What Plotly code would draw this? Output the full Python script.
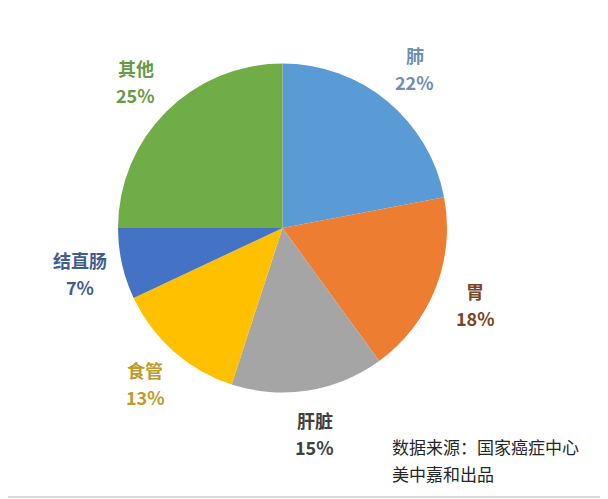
import math
import plotly.graph_objects as go

# cancer types and share (%)
labels = ["肺", "胃", "肝脏", "食管", "结直肠", "其他"]
values = [22, 18, 15, 13, 7, 25]
slice_colors = ["#5B9BD5", "#ED7D31", "#A5A5A5", "#FFC000", "#4472C4", "#70AD47"]
text_colors = ["#6D8FB0", "#7A4526", "#404040", "#BE9A2E", "#3F5E8E", "#679A45"]
source_lines = ["数据来源：国家癌症中心", "美中嘉和出品"]

W, H = 608, 499
off = 8  # page body margin
cx, cy, r = 282.5 - off, 228 - off, 164.5  # pie centre/radius in figure pixels

fig = go.Figure(go.Pie(
    labels=labels, values=values, sort=False, direction="clockwise", rotation=0,
    marker=dict(colors=slice_colors, line=dict(width=0)),
    textinfo="none", hoverinfo="label+percent", showlegend=False,
    domain=dict(x=[(cx - r) / W, (cx + r) / W], y=[1 - (cy + r) / H, 1 - (cy - r) / H]),
))

font = "Noto Sans CJK SC, Microsoft YaHei, sans-serif"
total = sum(values)
cum = 0
for lab, v, col in zip(labels, values, text_colors):
    mid = (cum + v / 2) / total * 2 * math.pi
    cum += v
    k = 1.26
    px = cx + k * r * math.sin(mid)
    py = cy - k * r * math.cos(mid)
    pct = "%d%%" % round(v / total * 100)
    fig.add_annotation(x=px / W, y=1 - py / H, xref="paper", yref="paper",
                       text="<b>" + lab + "</b>", showarrow=False, yshift=13,
                       xanchor="center", yanchor="middle",
                       font=dict(family=font, size=18, color=col))
    fig.add_annotation(x=px / W, y=1 - py / H, xref="paper", yref="paper",
                       text="<b>" + pct + "</b>", showarrow=False, yshift=-14,
                       xanchor="center", yanchor="middle",
                       font=dict(family=font, size=18, color=col))

# source note
for i, s in enumerate(source_lines):
    fig.add_annotation(x=(390 - off) / W, y=1 - (446 - off + 27 * i) / H, xref="paper", yref="paper",
                       text=s, showarrow=False, xanchor="left", yanchor="middle",
                       font=dict(family=font, size=17, color="#262626"))

# faint frame on right/bottom
fx = (605 - off) / W
fy = 1 - (497 - off) / H
fig.add_shape(type="line", xref="paper", yref="paper", x0=fx, x1=fx, y0=fy, y1=1,
              line=dict(color="#D9D9D9", width=2))
fig.add_shape(type="line", xref="paper", yref="paper", x0=0, x1=fx, y0=fy, y1=fy,
              line=dict(color="#D9D9D9", width=2))

fig.update_layout(width=W, height=H, margin=dict(l=0, r=0, t=0, b=0),
                  paper_bgcolor="white", plot_bgcolor="white")
fig.write_html("out.html")
